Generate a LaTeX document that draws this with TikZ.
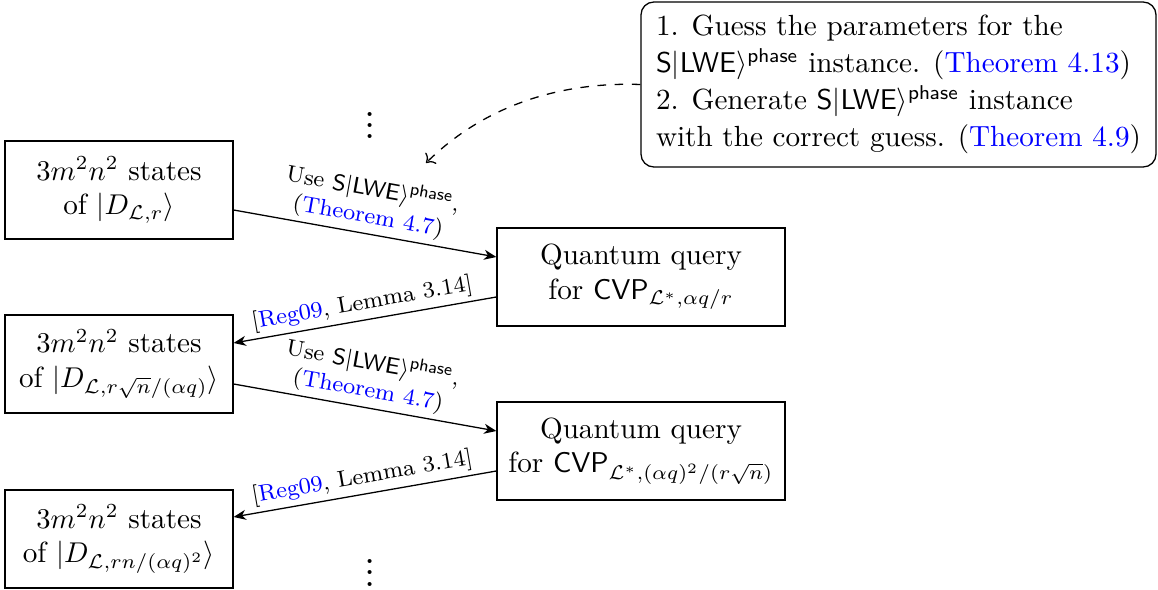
\documentclass[tikz,border=0pt]{standalone}
\usepackage{amsmath}
\usetikzlibrary{calc,arrows.meta}
\newcommand{\slwe}{\mathsf{S}|\mathsf{LWE}\rangle^{\mathsf{phase}}}
\begin{document}
\begin{tikzpicture}[x=0.3497pt,y=-0.3497pt,
  statebox/.style={draw,line width=0.45pt,minimum width=79.7pt,minimum height=34.3pt,align=center,inner sep=2pt,font=\fontsize{10.2}{12.2}\selectfont},
  querybox/.style={draw,line width=0.45pt,minimum width=100.7pt,minimum height=34.3pt,align=center,inner sep=2pt,font=\fontsize{10.2}{12.2}\selectfont},
  notebox/.style={draw,line width=0.45pt,rounded corners=4.5pt,minimum width=180.1pt,minimum height=57.7pt,align=left,inner sep=2pt,font=\fontsize{10.2}{13}\selectfont},
  arr/.style={line width=0.45pt,-{Stealth[length=4.3pt,width=3.5pt,inset=1.3pt]}},
  lab/.style={midway,above,sloped,align=center,font=\footnotesize,inner sep=1.5pt},
  dotsnode/.style={inner sep=0pt,anchor=base,font=\Large}]
\useasboundingbox (0,0) rectangle (1158,590);
\node[statebox] (b1) at (119,190) {$3m^2n^2$ states\\ of $|D_{\mathcal{L},r}\rangle$};
\node[statebox] (b2) at (119,364) {$3m^2n^2$ states\\ of $|D_{\mathcal{L},r\sqrt{n}/(\alpha q)}\rangle$};
\node[statebox] (b3) at (119,539) {$3m^2n^2$ states\\ of $|D_{\mathcal{L},rn/(\alpha q)^2}\rangle$};
\node[querybox] (q1) at (641,277) {Quantum query\\ for $\mathsf{CVP}_{\mathcal{L}^*,\alpha q/r}$};
\node[querybox] (q2) at (641,451) {Quantum query\\ for $\mathsf{CVP}_{\mathcal{L}^*,(\alpha q)^2/(r\sqrt{n})}$};
\node[notebox] (t) at (898.5,84.5) {1. Guess the parameters for the\\ $\slwe$ instance. (\textcolor{blue}{Theorem 4.13})\\ 2. Generate $\slwe$ instance\\ with the correct guess. (\textcolor{blue}{Theorem 4.9})};
\node[dotsnode] (d1) at (370,139) {$\vdots$};
\node[dotsnode] (d2) at (370,586) {$\vdots$};
\coordinate (dend) at (426,163);
\draw[arr] ($(b1.east)+(0,20)$) -- node[lab] {Use $\slwe$,\\ (\textcolor{blue}{Theorem 4.7})} ($(q1.west)+(0,-20)$);
\draw[arr] ($(q1.west)+(0,20)$) -- node[lab] {[\textcolor{blue}{Reg09}, Lemma 3.14]} ($(b2.east)+(0,-21)$);
\draw[arr] ($(b2.east)+(0,20)$) -- node[lab] {Use $\slwe$,\\ (\textcolor{blue}{Theorem 4.7})} ($(q2.west)+(0,-20)$);
\draw[arr] ($(q2.west)+(0,20)$) -- node[lab] {[\textcolor{blue}{Reg09}, Lemma 3.14]} ($(b3.east)+(0,-22)$);
\draw[dashed,line width=0.45pt,->] (t.west) .. controls (570,82) and (490,100) .. (dend);
\end{tikzpicture}
\end{document}
